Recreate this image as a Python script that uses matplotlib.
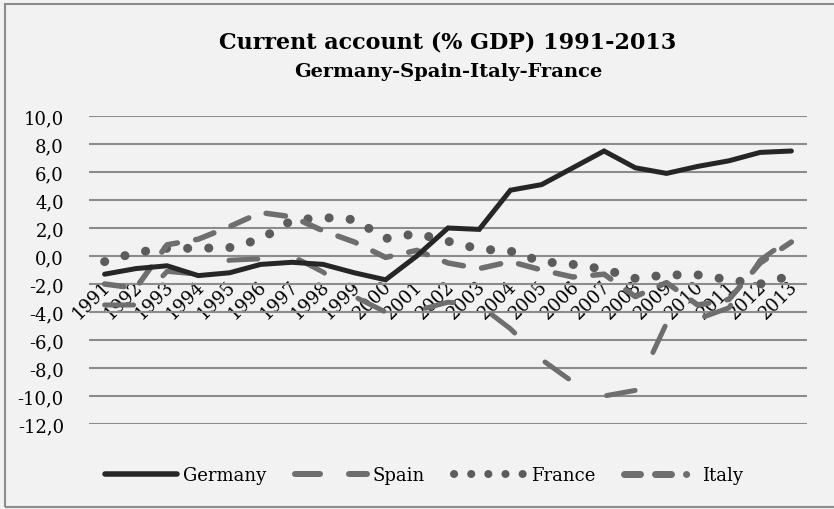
import matplotlib
matplotlib.use("Agg")
import matplotlib.pyplot as plt
from matplotlib.lines import Line2D
from matplotlib.patches import Rectangle
import matplotlib.transforms as mtransforms

# Current account balance, % of GDP
years = [str(y) for y in range(1991, 2014)]
germany = [-1.3, -0.9, -0.7, -1.4, -1.2, -0.6, -0.45, -0.6, -1.2, -1.7, 0.0, 2.0, 1.9,
           4.7, 5.1, 6.3, 7.5, 6.3, 5.9, 6.4, 6.8, 7.4, 7.5]
spain = [-3.5, -3.5, -1.1, -1.3, -0.3, -0.2, 0.0, -1.15, -2.9, -4.0, -3.9, -3.3, -3.5,
         -5.2, -7.4, -9.0, -10.0, -9.6, -4.8, -4.5, -3.7, -0.3, 1.3]
france = [-0.4, 0.25, 0.55, 0.55, 0.6, 1.2, 2.55, 2.75, 2.6, 1.25, 1.6, 1.05, 0.5,
          0.35, -0.4, -0.6, -0.95, -1.6, -1.35, -1.35, -1.7, -2.0, -1.4]
italy = [-2.0, -2.3, 0.8, 1.2, 2.1, 3.1, 2.8, 1.8, 1.0, -0.1, 0.4, -0.5, -0.9,
         -0.4, -1.0, -1.5, -1.3, -2.9, -1.9, -3.5, -3.1, -0.5, 1.0]
yticks = list(range(-12, 11, 2))

plt.rcParams['font.family'] = 'DejaVu Serif'
plt.rcParams['lines.scale_dashes'] = False

W, H = 834, 510
fig = plt.figure(figsize=(W / 100, H / 100), dpi=100)
fig.patch.set_facecolor('#f2f2f2')
ax = fig.add_axes([89 / W, 1 - 425 / H, (807 - 89) / W, (425 - 117) / H])
ax.set_facecolor('#f2f2f2')

x = list(range(len(years)))
px = 0.72  # points per pixel
c_dark = '#262626'
c_gray = '#6e6e6e'
c_fr = '#5c5c5c'

ax.plot(x, france, color=c_fr, lw=9 * px, linestyle=(0, (0.1, 21 * px)),
        dash_capstyle='round', zorder=3)
ax.plot(x, spain, color=c_gray, lw=5 * px, linestyle=(0, (29 * px, 42 * px)),
        dash_capstyle='round', zorder=4)
ax.plot(x, italy, color=c_gray, lw=5.5 * px, linestyle=(0, (19.5 * px, 18.5 * px)),
        dash_capstyle='round', zorder=5)
ax.plot(x, germany, color=c_dark, lw=5 * px, solid_capstyle='round',
        solid_joinstyle='miter', zorder=6)

ax.set_xlim(-0.5, len(years) - 0.5)
ax.set_ylim(-12, 10)
ax.set_yticks(yticks)
ax.set_yticklabels([f"{v:.1f}".replace('.', ',') for v in yticks], fontsize=13)
ax.yaxis.grid(True, color='#8c8c8c', lw=1.5)
ax.set_axisbelow(True)
for s in ax.spines.values():
    s.set_visible(False)
ax.spines['bottom'].set_position(('data', 0))
ax.tick_params(axis='y', length=0, pad=18)
ax.tick_params(axis='x', length=0, pad=15)
ax.set_xticks(x)
ax.set_xticklabels(years, rotation=45, ha='right', rotation_mode='anchor', fontsize=13)
shift = mtransforms.ScaledTranslation(-3 / 100, 0, fig.dpi_scale_trans)
for lab in ax.get_xticklabels():
    lab.set_transform(lab.get_transform() + shift)

fig.text(448 / W, 1 - 43 / H, "Current account (% GDP) 1991-2013", ha='center',
         va='center', fontsize=16, fontweight='bold')
fig.text(448 / W, 1 - 72 / H, "Germany-Spain-Italy-France", ha='center',
         va='center', fontsize=14, fontweight='bold')

handles = [
    Line2D([], [], color=c_dark, lw=5.5 * px, solid_capstyle='round'),
    Line2D([], [], color=c_gray, lw=6 * px, linestyle=(0, (25 * px, 29 * px)),
           dash_capstyle='round'),
    Line2D([], [], color=c_fr, lw=8 * px, linestyle=(0, (0.1, 17 * px)),
           dash_capstyle='round'),
    Line2D([], [], color=c_gray, lw=7 * px,
           linestyle=(0, (16 * px, 15 * px, 16 * px, 15 * px, 0.1, 30 * px)),
           dash_capstyle='round'),
]
fig.legend(handles, ['Germany', 'Spain', 'France', 'Italy'], loc='center',
           bbox_to_anchor=(424 / W, 1 - 476 / H), ncol=4, frameon=False,
           fontsize=13, handlelength=4.0, handletextpad=0.3, columnspacing=1.6)

fig.patches.append(Rectangle((5 / W, 2 / H), 1, 1 - 7 / H, transform=fig.transFigure,
                             fill=False, edgecolor='#8c8c8c', lw=1.5))

fig.savefig('out.png', dpi=100, facecolor=fig.get_facecolor())
